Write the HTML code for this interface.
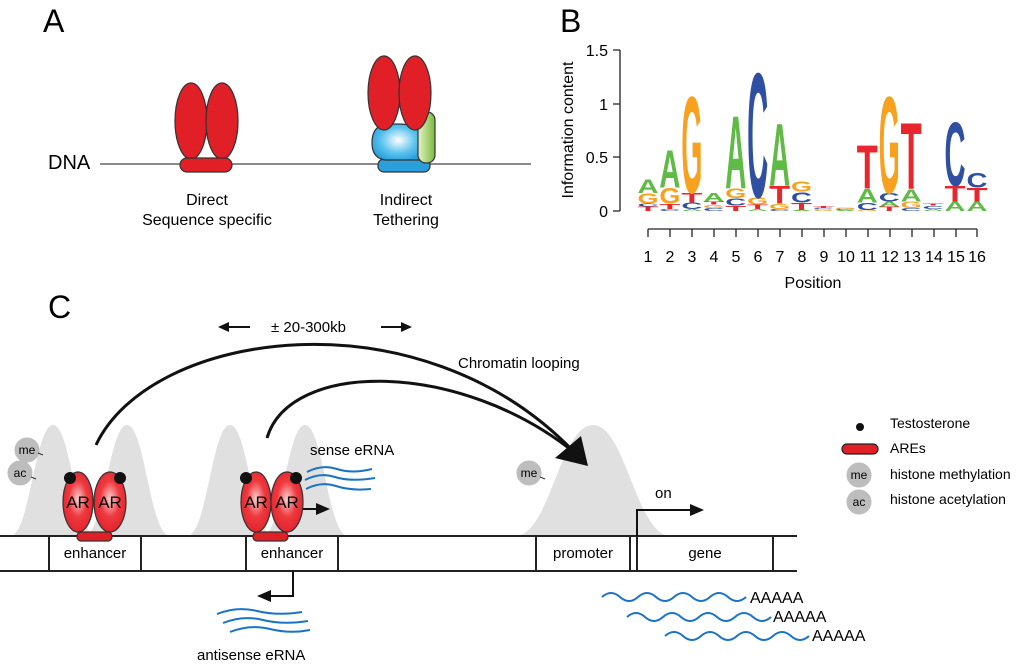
<!DOCTYPE html>
<html><head><meta charset="utf-8"><style>
html,body{margin:0;padding:0;background:#fff}
svg{display:block;font-family:"Liberation Sans",sans-serif}
</style></head><body>
<svg width="1024" height="666" viewBox="0 0 1024 666" xmlns="http://www.w3.org/2000/svg">
<defs>
<radialGradient id="rg" cx="0.5" cy="0.45" r="0.6"><stop offset="0" stop-color="#fbd0d0"/><stop offset="0.5" stop-color="#ee3a3f"/><stop offset="1" stop-color="#e0202a"/></radialGradient>
<radialGradient id="bg" cx="0.55" cy="0.45" r="0.6"><stop offset="0" stop-color="#ffffff"/><stop offset="0.6" stop-color="#5cc3ee"/><stop offset="1" stop-color="#2a9fdb"/></radialGradient>
<linearGradient id="gg" x1="0" x2="1"><stop offset="0" stop-color="#e6f3c8"/><stop offset="1" stop-color="#7ab83a"/></linearGradient>
</defs>
<!-- Panel A -->
<text x="43" y="32" font-size="32">A</text>
<text x="48" y="169" font-size="20">DNA</text>
<line x1="100" y1="164" x2="531" y2="164" stroke="#444" stroke-width="1.3"/>
<g stroke="#333" stroke-width="1.2" fill="#e01f27">
<ellipse cx="191" cy="121" rx="16" ry="38"/><ellipse cx="222" cy="121" rx="16" ry="38"/>
<rect x="180" y="158" width="52" height="14" rx="7"/>
<rect x="378" y="159" width="52" height="13" rx="6" fill="#2a9fdb"/>
<path d="M380 126 Q395 122 418 126 L420 160 L385 160 Q372 158 372 143 Q372 130 380 126Z" fill="url(#bg)"/>
<rect x="418" y="112" width="17" height="51" rx="8" fill="url(#gg)"/>
<ellipse cx="384" cy="93" rx="16" ry="37"/><ellipse cx="415" cy="93" rx="16" ry="37"/>
</g>
<g font-size="16" text-anchor="middle">
<text x="207" y="205">Direct</text><text x="207" y="225">Sequence specific</text>
<text x="406" y="205">Indirect</text><text x="406" y="225">Tethering</text>
</g>
<!-- Panel B -->
<text x="560" y="32" font-size="32">B</text>
<g stroke="#222" stroke-width="1.3" fill="none">
<path d="M620 50 V211 M613 50 H620 M613 104 H620 M613 157 H620 M613 211 H620"/>
<path d="M648 229 H977 M648 229 v8 M670 229 v8 M692 229 v8 M714 229 v8 M736 229 v8 M758 229 v8 M780 229 v8 M802 229 v8 M824 229 v8 M846 229 v8 M868 229 v8 M890 229 v8 M912 229 v8 M934 229 v8 M956 229 v8 M977 229 v8"/>
</g>
<g font-size="16" text-anchor="end">
<text x="608" y="56">1.5</text><text x="608" y="110">1</text><text x="608" y="163">0.5</text><text x="608" y="217">0</text>
</g>
<g font-size="16" text-anchor="middle">
<text x="648" y="262">1</text><text x="670" y="262">2</text><text x="692" y="262">3</text><text x="714" y="262">4</text><text x="736" y="262">5</text><text x="758" y="262">6</text><text x="780" y="262">7</text><text x="802" y="262">8</text><text x="824" y="262">9</text><text x="846" y="262">10</text><text x="868" y="262">11</text><text x="890" y="262">12</text><text x="912" y="262">13</text><text x="934" y="262">14</text><text x="956" y="262">15</text><text x="977" y="262">16</text>
<text x="813" y="288" font-size="16">Position</text>
</g>
<text transform="translate(573,130) rotate(-90)" font-size="16" text-anchor="middle">Information content</text>
<g id="logo" font-weight="bold" font-size="100"></g>
<!-- Panel C -->
<text x="48" y="318" font-size="32">C</text>
<g fill="#e0e0e0">
<path d="M10 536 C30 536 35 425 53 425 C71 425 76 536 96 536Z"/>
<path d="M84 536 C104 536 109 425 127 425 C145 425 150 536 170 536Z"/>
<path d="M187 536 C207 536 212 425 230 425 C248 425 253 536 273 536Z"/>
<path d="M262 536 C282 536 287 425 305 425 C323 425 328 536 348 536Z"/>
<path d="M515 536 C550 536 560 425 593 425 C626 425 636 536 671 536Z"/>
</g>
<g stroke="#222" stroke-width="2" fill="none">
<path d="M0 536 H797 M0 571 H797"/>
<path d="M49 536 V571 M141 536 V571 M246 536 V571 M338 536 V571 M536 536 V571 M630 536 V571 M637 536 V571 M773 536 V571"/>
</g>
<g font-size="15" text-anchor="middle">
<text x="95" y="558">enhancer</text><text x="292" y="558">enhancer</text>
<text x="583" y="558">promoter</text><text x="705" y="558">gene</text>
</g>
<g stroke="#111" stroke-width="3" fill="none">
<path d="M96 445 C150 330 420 290 575 453"/>
<path d="M267 438 C290 360 460 360 575 453"/>
</g>
<polygon points="588,466 555,458 581,436" fill="#111"/>
<text x="458" y="368" font-size="15">Chromatin looping</text>
<text x="271" y="332" font-size="15">± 20-300kb</text>
<g stroke="#111" stroke-width="2"><line x1="228" y1="327" x2="250" y2="327"/><line x1="381" y1="327" x2="403" y2="327"/></g>
<polygon points="218,327 229,322 229,332" fill="#111"/><polygon points="412,327 401,322 401,332" fill="#111"/>
<g stroke="#333" stroke-width="1.2">
<rect x="77" y="532" width="35" height="9" rx="4" fill="#e01f27"/>
<ellipse cx="78" cy="502" rx="15" ry="30" fill="url(#rg)"/><ellipse cx="110" cy="502" rx="16" ry="30" fill="url(#rg)"/>
<rect x="253" y="532" width="35" height="9" rx="4" fill="#e01f27"/>
<ellipse cx="256" cy="502" rx="15" ry="30" fill="url(#rg)"/><ellipse cx="287" cy="502" rx="16" ry="30" fill="url(#rg)"/>
</g>
<g fill="#111"><circle cx="70" cy="478" r="6"/><circle cx="120" cy="478" r="6"/><circle cx="246" cy="478" r="6"/><circle cx="296" cy="478" r="6"/></g>
<g font-size="17" text-anchor="middle"><text x="78" y="508">AR</text><text x="110" y="508">AR</text><text x="256" y="508">AR</text><text x="287" y="508">AR</text></g>
<g stroke="#111" stroke-width="2" fill="none">
<path d="M303 509 H318"/>
<path d="M293 571 V596 H268"/>
<path d="M637 536 V510 H692"/>
</g>
<polygon points="330,509 316,503 316,515" fill="#111"/>
<polygon points="257,596 271,590 271,602" fill="#111"/>
<polygon points="704,510 690,504 690,516" fill="#111"/>
<text x="310" y="455" font-size="15">sense eRNA</text>
<text x="655" y="498" font-size="15">on</text>
<text x="197" y="660" font-size="15">antisense eRNA</text>
<g stroke="#1a73c6" stroke-width="2" fill="none">
<path d="M307 472 q15 -8 30 -3 t35 0"/>
<path d="M305 480 q15 -8 30 -3 t40 1"/>
<path d="M306 489 q15 -8 30 -3 t35 3"/>
<path d="M217 614 q20 -8 40 -3 t45 1"/>
<path d="M223 623 q20 -8 40 -3 t45 1"/>
<path d="M230 632 q20 -8 40 -3 t40 1"/>
<path d="M602 597 q9 -8 18 0 t18 0 t18 0 t18 0 t18 0 t18 0 t18 0 t18 0"/>
<path d="M627 617 q9 -8 18 0 t18 0 t18 0 t18 0 t18 0 t18 0 t18 0 t18 0"/>
<path d="M665 636 q9 -8 18 0 t18 0 t18 0 t18 0 t18 0 t18 0 t18 0 t18 0"/>
</g>
<g font-size="16"><text x="750" y="603">AAAAA</text><text x="773" y="622">AAAAA</text><text x="812" y="641">AAAAA</text></g>
<g fill="#bdbdbd" stroke="#bdbdbd"><circle cx="27" cy="450" r="12"/><circle cx="20" cy="473" r="12"/><circle cx="529" cy="473" r="12"/><circle cx="859" cy="475" r="12"/><circle cx="859" cy="502" r="12"/></g>
<g stroke="#333" stroke-width="1" fill="none"><path d="M38 453 l5 2 M31 477 l5 2 M540 477 l5 2"/></g>
<g font-size="12" text-anchor="middle"><text x="27" y="454">me</text><text x="20" y="477">ac</text><text x="529" y="477">me</text><text x="859" y="479">me</text><text x="859" y="506">ac</text></g>
<circle cx="860" cy="427" r="4" fill="#111"/>
<rect x="842" y="444" width="36" height="10" rx="5" fill="#e01f27" stroke="#222" stroke-width="1.2"/>
<g font-size="14"><text x="890" y="428">Testosterone</text><text x="890" y="453">AREs</text><text x="890" y="479">histone methylation</text><text x="890" y="504">histone acetylation</text></g>
</svg>
<script>
var cols=[
[["T",.04],["C",.03],["G",.1],["A",.13]],
[["C",.02],["T",.05],["G",.15],["A",.36]],
[["A",.02],["C",.06],["T",.09],["G",.93]],
[["C",.03],["G",.03],["T",.03],["A",.08]],
[["T",.05],["C",.07],["G",.09],["A",.7]],
[["A",.02],["T",.04],["G",.07],["C",1.2]],
[["C",.02],["G",.05],["T",.17],["A",.6]],
[["A",.01],["T",.07],["C",.1],["G",.1]],
[["G",.02],["C",.01],["T",.02]],
[["A",.01],["C",.01],["G",.01]],
[["G",.01],["C",.07],["A",.13],["T",.42]],
[["T",.04],["A",.05],["C",.08],["G",.93]],
[["C",.03],["G",.06],["A",.12],["T",.64]],
[["A",.02],["C",.03],["T",.02]],
[["A",.09],["T",.15],["C",.61]],
[["A",.09],["T",.13],["C",.14]]];
var col={A:"#5fba46",C:"#2f4fa2",G:"#f7a11f",T:"#e8262b"};
var g=document.getElementById("logo"),ns="http://www.w3.org/2000/svg";
cols.forEach(function(c,i){var x=648+i*21.93-10.5,y=211;
c.forEach(function(l){var h=l[1]*107;if(h<0.5)h=0.5;
var t=document.createElementNS(ns,"text");t.textContent=l[0];
t.setAttribute("x",0);t.setAttribute("y",0);t.setAttribute("textLength",21);t.setAttribute("lengthAdjust","spacingAndGlyphs");
t.setAttribute("fill",col[l[0]]);
t.setAttribute("transform","translate("+x+","+y+") scale(1,"+(h/72)+")");
g.appendChild(t);y-=h;});});
</script>
</body></html>
